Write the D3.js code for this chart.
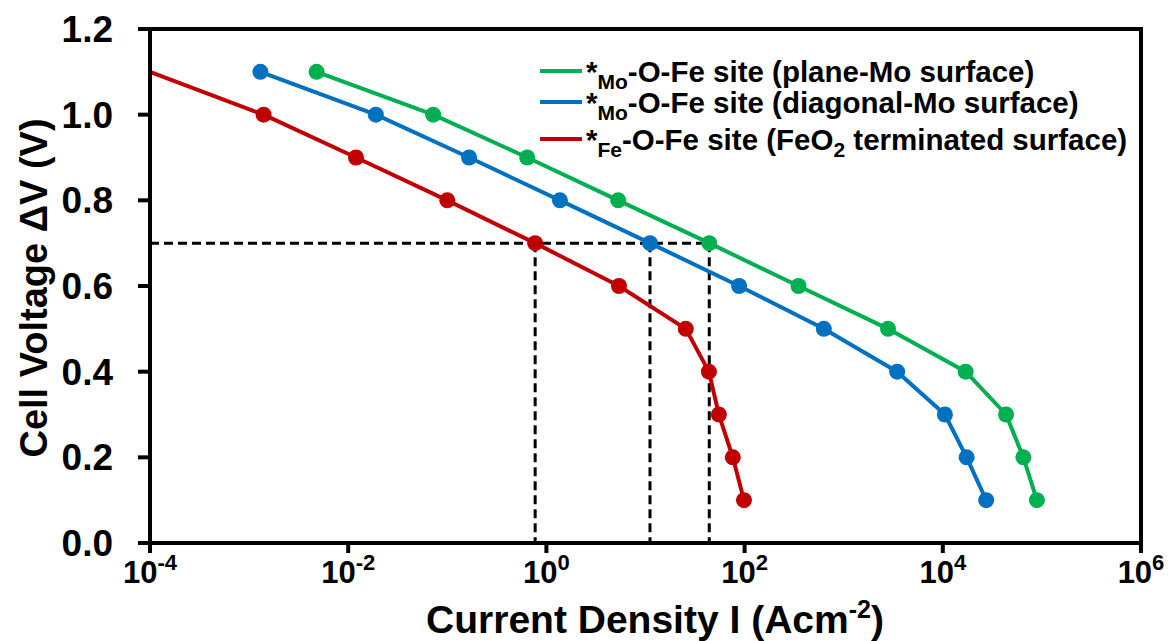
<!DOCTYPE html>
<html>
<head>
<meta charset="utf-8">
<title>Cell voltage vs current density</title>
<script src="https://cdn.jsdelivr.net/npm/d3@7"></script>
<style>
  body { margin: 0; background: #fff; }
  text { font-family: Arial, "Liberation Sans", sans-serif; font-weight: bold; fill: #000; }
</style>
</head>
<body>
<div id="chart"></div>
<script>
// voltages shared by all series
var voltages = [1.1, 1.0, 0.9, 0.8, 0.7, 0.6, 0.5, 0.4, 0.3, 0.2, 0.1];

// current densities (A cm^-2)
var planeMo    = [4.8e-3, 0.072, 0.64, 5.3, 44, 350, 2800, 1.7e4, 4.35e4, 6.5e4, 8.9e4];
var diagonalMo = [1.3e-3, 0.019, 0.166, 1.37, 11.1, 88, 630, 3460, 1.05e4, 1.74e4, 2.74e4];
var feO2       = [1e-4, 1.4e-3, 0.012, 0.1, 0.77, 5.4, 25.5, 43.6, 55, 76, 98.6];

var seriesNames = ['plane', 'diagonal', 'fe'];
var seriesColors = ['#00B050', '#0070C0', '#C00000'];
var yTicks = [0, 0.2, 0.4, 0.6, 0.8, 1.0, 1.2];
var xTicks = [-4, -2, 0, 2, 4, 6];
var refVoltage = 0.7;

var width = 1169, height = 641;
var mLeft = 150, mRight = 1141, mTop = 29, mBottom = 543;

var svg = d3.select('#chart').append('svg')
  .attr('width', width).attr('height', height);

var x = d3.scaleLog().domain([1e-4, 1e6]).range([mLeft, mRight]);
var y = d3.scaleLinear().domain([0, 1.2]).range([mBottom, mTop]);

var series = [
  { name: seriesNames[0], color: seriesColors[0], xs: planeMo },
  { name: seriesNames[1], color: seriesColors[1], xs: diagonalMo },
  { name: seriesNames[2], color: seriesColors[2], xs: feO2 }
];

// dashed guide lines at 0.7 V
var refPts = series.map(function(s){ return s.xs[voltages.indexOf(refVoltage)]; });
var maxRef = d3.max(refPts);
svg.append('line')
  .attr('x1', mLeft).attr('x2', x(maxRef))
  .attr('y1', y(refVoltage)).attr('y2', y(refVoltage))
  .attr('stroke', '#000').attr('stroke-width', 3).attr('stroke-dasharray', '9,5');
refPts.forEach(function(v){
  svg.append('line')
    .attr('x1', x(v)).attr('x2', x(v))
    .attr('y1', y(refVoltage)).attr('y2', mBottom)
    .attr('stroke', '#000').attr('stroke-width', 3).attr('stroke-dasharray', '9,5');
});

var line = d3.line()
  .x(function(d){ return x(d[0]); })
  .y(function(d){ return y(d[1]); });

series.forEach(function(s){
  var pts = s.xs.map(function(v, i){ return [v, voltages[i]]; });
  svg.append('path')
    .attr('d', line(pts))
    .attr('fill', 'none')
    .attr('stroke', s.color)
    .attr('stroke-width', 4);
  svg.selectAll('.dot-' + s.name)
    .data(pts.filter(function(d){ return d[0] > 1e-4; }))
    .enter()
    .append('circle')
    .attr('class', 'dot-' + s.name)
    .attr('cx', function(d){ return x(d[0]); })
    .attr('cy', function(d){ return y(d[1]); })
    .attr('r', 8)
    .attr('fill', s.color);
});

// frame
svg.append('path')
  .attr('d', 'M' + mLeft + ',' + mTop + 'H' + mRight + 'V' + mBottom + 'H' + mLeft + 'Z')
  .attr('fill', 'none').attr('stroke', '#000').attr('stroke-width', 4);

// y axis ticks and labels
yTicks.forEach(function(t){
  svg.append('line')
    .attr('x1', mLeft - 12).attr('x2', mLeft)
    .attr('y1', y(t)).attr('y2', y(t))
    .attr('stroke', '#000').attr('stroke-width', 4);
  svg.append('text')
    .attr('x', 113).attr('y', y(t) + 13)
    .attr('text-anchor', 'end')
    .attr('font-size', 37)
    .text(t.toFixed(1));
});

// x axis ticks and labels
xTicks.forEach(function(p){
  var px = x(Math.pow(10, p));
  svg.append('line')
    .attr('x1', px).attr('x2', px)
    .attr('y1', mBottom).attr('y2', mBottom + 10)
    .attr('stroke', '#000').attr('stroke-width', 4);
  var t = svg.append('text')
    .attr('x', px).attr('y', 583)
    .attr('text-anchor', 'middle')
    .attr('font-size', 31);
  t.append('tspan').text('10');
  t.append('tspan').attr('dy', -13).attr('font-size', 22).text(p);
});

// axis titles
var xt = svg.append('text')
  .attr('x', 655).attr('y', 633)
  .attr('text-anchor', 'middle')
  .attr('font-size', 39);
xt.append('tspan').text('Current Density I (Acm');
xt.append('tspan').attr('dy', -15).attr('font-size', 25).text('-2');
xt.append('tspan').attr('dy', 15).text(')');

svg.append('text')
  .attr('transform', 'translate(47,' + 288 + ') rotate(-90)')
  .attr('text-anchor', 'middle')
  .attr('font-size', 38)
  .text('Cell Voltage \u0394V (V)');

// legend
var legend = [
  { color: seriesColors[0], sub: 'Mo', rest: '-O-Fe site (plane-Mo surface)' },
  { color: seriesColors[1], sub: 'Mo', rest: '-O-Fe site (diagonal-Mo surface)' },
  { color: seriesColors[2], sub: 'Fe', rest: '-O-Fe site (FeO', sub2: '2', tail: ' terminated surface)' }
];
var legendY = [71, 102, 139];
legend.forEach(function(l, i){
  var ly = legendY[i];
  var base = ly + 11;
  svg.append('line')
    .attr('x1', 540).attr('x2', 582)
    .attr('y1', ly).attr('y2', ly)
    .attr('stroke', l.color).attr('stroke-width', 4);
  var t = svg.append('text')
    .attr('x', 586).attr('y', base)
    .attr('font-size', 29.5);
  t.append('tspan').text('*');
  t.append('tspan').attr('y', base + 7).attr('font-size', 21).text(l.sub);
  t.append('tspan').attr('y', base).text(l.rest);
  if (l.sub2) {
    t.append('tspan').attr('y', base + 7).attr('font-size', 21).text(l.sub2);
    t.append('tspan').attr('y', base).text(l.tail);
  }
});
</script>
</body>
</html>
